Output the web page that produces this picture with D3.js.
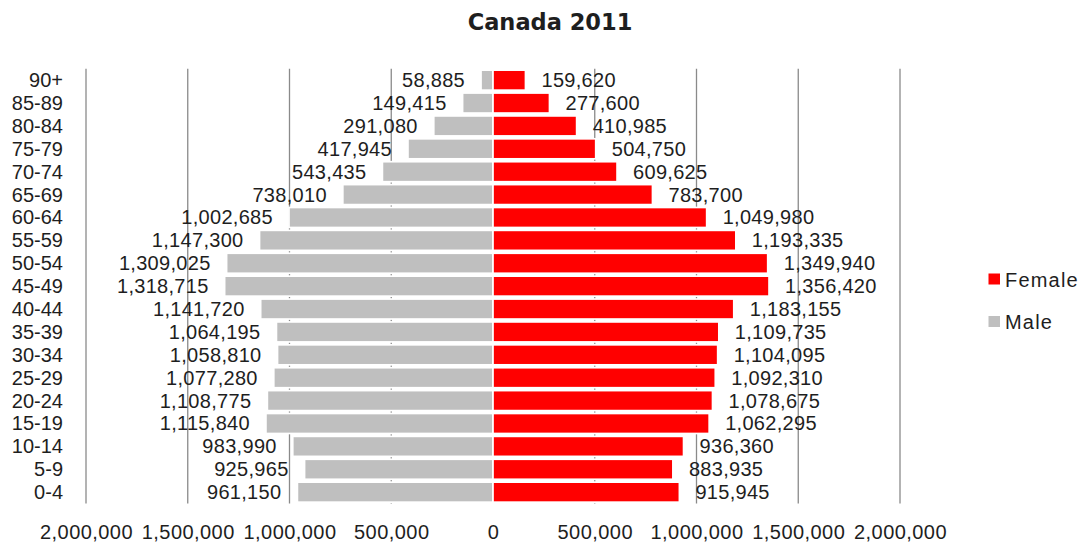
<!DOCTYPE html>
<html>
<head>
<meta charset="utf-8">
<script src="https://cdn.jsdelivr.net/npm/d3@7"></script>
<style>
  html, body { margin: 0; padding: 0; background: #fff; }
  svg { display: block; }
  text { font-family: "Century Gothic", "Liberation Sans", Arial, sans-serif; fill: #1e1e1e; }
</style>
</head>
<body>
<svg id="chart" width="1086" height="544"></svg>
<script>
// Age groups, oldest at the top
const ageGroups = ["90+", "85-89", "80-84", "75-79", "70-74", "65-69", "60-64", "55-59",
  "50-54", "45-49", "40-44", "35-39", "30-34", "25-29", "20-24", "15-19", "10-14", "5-9", "0-4"];

// Population by sex, same order as ageGroups
const male = [58885, 149415, 291080, 417945, 543435, 738010, 1002685, 1147300, 1309025,
  1318715, 1141720, 1064195, 1058810, 1077280, 1108775, 1115840, 983990, 925965, 961150];
const female = [159620, 277600, 410985, 504750, 609625, 783700, 1049980, 1193335, 1349940,
  1356420, 1183155, 1109735, 1104095, 1092310, 1078675, 1062295, 936360, 883935, 915945];

// Axis ticks (male side shown as negative positions)
const axisTicks = [-2000000, -1500000, -1000000, -500000, 0, 500000, 1000000, 1500000, 2000000];

const seriesNames = ["Female", "Male"];
const colors = { Female: "#ff0000", Male: "#bfbfbf" };

const svg = d3.select("#chart");
const fmt = d3.format(",");

const x = d3.scaleLinear().domain([-2000000, 2000000]).range([86, 900]);
const y = d3.scaleBand().domain(ageGroups).range([68.7, 503.6]).paddingInner(0.126).paddingOuter(0.063);

// Title
svg.append("text")
  .attr("x", 550).attr("y", 30)
  .attr("text-anchor", "middle")
  .style("font-family", "'DejaVu Sans', sans-serif")
  .style("font-weight", "bold")
  .style("font-size", "22.5px")
  .text("Canada 2011");

// Vertical gridlines
svg.append("g")
  .selectAll("line")
  .data(axisTicks.filter(d => d !== 0))
  .join("line")
  .attr("x1", d => x(d)).attr("x2", d => x(d))
  .attr("y1", 68.7).attr("y2", 503.6)
  .attr("stroke", "#8a8a8a")
  .attr("stroke-width", 1.3);

// Bottom axis labels
const xAxis = d3.axisBottom(x)
  .tickValues(axisTicks)
  .tickSize(0)
  .tickPadding(0)
  .tickFormat(d => fmt(Math.abs(d)));
const axisG = svg.append("g").attr("transform", "translate(0,521)").call(xAxis);
axisG.select(".domain").remove();
axisG.selectAll("text")
  .attr("dy", "0.9em")
  .style("font-size", "20px")
  .style("letter-spacing", "0.45px")
  .style("font-family", "'Century Gothic', 'Liberation Sans', Arial, sans-serif")
  .attr("fill", "#1e1e1e");

// Age group labels
svg.append("g")
  .selectAll("text")
  .data(ageGroups)
  .join("text")
  .attr("x", 63)
  .attr("y", d => y(d) + y.bandwidth() / 2)
  .attr("dy", "0.35em")
  .attr("text-anchor", "end")
  .style("font-size", "20px")
  .text(d => d);

const rows = ageGroups.map((g, i) => ({ group: g, male: male[i], female: female[i] }));

// Male bars (left)
svg.append("g")
  .selectAll("rect")
  .data(rows)
  .join("rect")
  .attr("x", d => x(-d.male))
  .attr("y", d => y(d.group))
  .attr("width", d => x(0) - x(-d.male))
  .attr("height", y.bandwidth())
  .attr("fill", colors.Male)
  .attr("stroke", "#fff")
  .attr("stroke-width", 1.7);

// Female bars (right)
svg.append("g")
  .selectAll("rect")
  .data(rows)
  .join("rect")
  .attr("x", x(0))
  .attr("y", d => y(d.group))
  .attr("width", d => x(d.female) - x(0))
  .attr("height", y.bandwidth())
  .attr("fill", colors.Female)
  .attr("stroke", "#fff")
  .attr("stroke-width", 1.7);

// Value labels
svg.append("g")
  .selectAll("text")
  .data(rows)
  .join("text")
  .attr("x", d => x(-d.male) - 16)
  .attr("y", d => y(d.group) + y.bandwidth() / 2)
  .attr("dy", "0.35em")
  .attr("text-anchor", "end")
  .style("font-size", "20px")
  .style("letter-spacing", "0.3px")
  .text(d => fmt(d.male));

svg.append("g")
  .selectAll("text")
  .data(rows)
  .join("text")
  .attr("x", d => x(d.female) + 16)
  .attr("y", d => y(d.group) + y.bandwidth() / 2)
  .attr("dy", "0.35em")
  .attr("text-anchor", "start")
  .style("font-size", "20px")
  .style("letter-spacing", "0.3px")
  .text(d => fmt(d.female));

// Legend
const legend = svg.append("g")
  .selectAll("g")
  .data(seriesNames)
  .join("g")
  .attr("transform", (d, i) => `translate(988.5,${273.5 + i * 42.5})`);
legend.append("rect")
  .attr("width", 11.5).attr("height", 11)
  .attr("fill", d => colors[d]);
legend.append("text")
  .attr("x", 16.5).attr("y", 13.3)
  .style("font-size", "20px")
  .style("letter-spacing", "1.2px")
  .text(d => d);
</script>
</body>
</html>
